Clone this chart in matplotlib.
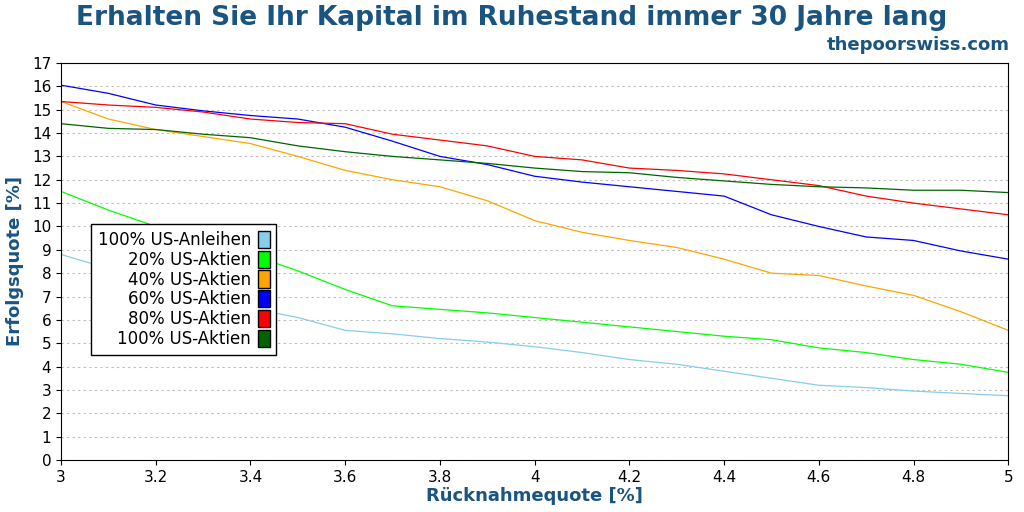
import numpy as np
import matplotlib
matplotlib.use("Agg")
import matplotlib.pyplot as plt
from matplotlib.patches import Patch

rates = [3.0, 3.1, 3.2, 3.3, 3.4, 3.5, 3.6, 3.7, 3.8, 3.9, 4.0,
         4.1, 4.2, 4.3, 4.4, 4.5, 4.6, 4.7, 4.8, 4.9, 5.0]
bonds100 = [8.8, 8.2, 7.6, 7.0, 6.5, 6.1, 5.55, 5.4, 5.2, 5.05, 4.85,
            4.6, 4.3, 4.1, 3.8, 3.5, 3.2, 3.1, 2.95, 2.85, 2.75]
stocks20 = [11.5, 10.7, 10.0, 9.4, 8.8, 8.1, 7.3, 6.6, 6.45, 6.3, 6.1,
            5.9, 5.7, 5.5, 5.3, 5.15, 4.8, 4.6, 4.3, 4.1, 3.75]
stocks40 = [15.35, 14.6, 14.15, 13.85, 13.55, 13.0, 12.4, 12.0, 11.7, 11.1, 10.25,
            9.75, 9.4, 9.1, 8.6, 8.0, 7.9, 7.45, 7.05, 6.35, 5.55]
stocks60 = [16.05, 15.7, 15.2, 14.95, 14.75, 14.6, 14.25, 13.65, 13.0, 12.65, 12.15,
            11.9, 11.7, 11.5, 11.3, 10.5, 10.0, 9.55, 9.4, 8.95, 8.6]
stocks80 = [15.35, 15.2, 15.1, 14.9, 14.6, 14.45, 14.4, 13.95, 13.7, 13.45, 13.0,
            12.85, 12.5, 12.4, 12.25, 12.0, 11.75, 11.3, 11.0, 10.75, 10.5]
stocks100 = [14.4, 14.2, 14.15, 13.95, 13.8, 13.45, 13.2, 13.0, 12.85, 12.7, 12.5,
             12.35, 12.3, 12.1, 11.95, 11.8, 11.7, 11.65, 11.55, 11.55, 11.45]

labels = ["100% US-Anleihen", "20% US-Aktien", "40% US-Aktien",
          "60% US-Aktien", "80% US-Aktien", "100% US-Aktien"]
colors = ["#87ceeb", "#00ff00", "#ffa500", "#0000ff", "#ff0000", "#006400"]
series = [bonds100, stocks20, stocks40, stocks60, stocks80, stocks100]

title_color = "#1a5480"

fig = plt.figure(figsize=(10.24, 5.12), dpi=100)
ax = fig.add_axes([0.0596, 0.1016, 0.925, 0.7754])

for ys, c in zip(series, colors):
    ax.plot(rates, ys, color=c, lw=0.9)

ax.set_xlim(3, 5)
ax.set_ylim(0, 17)
ax.set_xticks(np.arange(3, 5.01, 0.2))
ax.set_xticklabels(["3", "3.2", "3.4", "3.6", "3.8", "4", "4.2", "4.4", "4.6", "4.8", "5"])
ax.set_yticks(range(0, 18))
ax.tick_params(labelsize=11, direction="out")
ax.grid(axis="y", linestyle=(0, (2, 3)), color="#bbbbbb", lw=0.8)
ax.set_axisbelow(True)

ax.set_xlabel("Rücknahmequote [%]", fontsize=13, fontweight="bold", color=title_color, labelpad=2)
ax.set_ylabel("Erfolgsquote [%]", fontsize=13, fontweight="bold", color=title_color, labelpad=6)

fig.text(0.5, 0.965, "Erhalten Sie Ihr Kapital im Ruhestand immer 30 Jahre lang",
         ha="center", va="center", fontsize=19, fontweight="bold", color=title_color)
fig.text(0.986, 0.912, "thepoorswiss.com", ha="right", va="center",
         fontsize=13, fontweight="bold", color=title_color)

handles = [Patch(facecolor=c, edgecolor="black", lw=1) for c in colors]
leg = ax.legend(handles, labels, loc="upper left", bbox_to_anchor=(0.023, 0.615),
                markerfirst=False, fontsize=12, fancybox=False, framealpha=1,
                edgecolor="black", handlelength=0.7, handleheight=1.2,
                labelspacing=0.1, handletextpad=0.4, borderpad=0.4)
for t in leg.get_texts():
    t.set_ha("right")
leg._legend_box.align = "right"

fig.savefig("out.png", dpi=100)
